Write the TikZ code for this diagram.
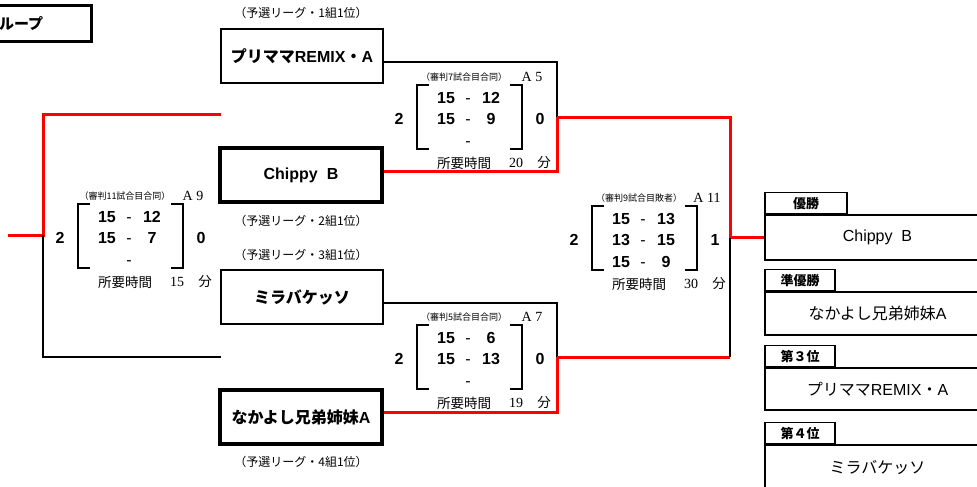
\documentclass[tikz,border=0pt]{standalone}
\usepackage{fontspec}
\setmainfont{Noto Sans CJK JP}
\newfontfamily\arialfont{Liberation Sans}
\newfontfamily\serifnum{Liberation Serif}
\usepackage{tikz}
\usetikzlibrary{positioning}

\newcommand{\scorerow}[2]{\makebox[22pt]{#1}\makebox[22pt]{\mdseries -}\makebox[24pt]{#2}}
\newcommand{\match}[7]{%
\draw[bracket] (12,0) -- (0,0) -- (0,64) -- (12,64);
\draw[bracket] (93,0) -- (105,0) -- (105,64) -- (93,64);
\node[headtext] (#1head) at (47,-8) {#3};
\node[codetext] (#1code) at (115,-8) {#2};
\node[scoretext] (#1won) at (-18,34) {#4};
\node[scoretext] (#1lost) at (123,34) {#5};
\node[scoretext, align=center] (#1rows) at (52,34) {#6};
\node[timetext] (#1time) at (47,78) {所要時間};
\node[codetext] (#1min) at (99,78) {#7};
\node[timetext] (#1unit) at (127,78) {分};
}

\begin{document}
\begin{tikzpicture}[x=1pt, y=-1pt,
  teambox/.style={draw, line width=2pt, minimum width=162pt, minimum height=54pt, inner sep=0pt, font=\bfseries\fontsize{16}{18}\selectfont},
  winline/.style={line width=4pt},
  lab/.style={font=\fontsize{12}{14}\selectfont},
  redline/.style={red, line width=3pt},
  blackline/.style={black, line width=1.5pt},
  bracket/.style={line width=2.5pt},
  headtext/.style={inner sep=0pt, font=\fontsize{9}{10}\selectfont},
  codetext/.style={inner sep=0pt, font=\serifnum\fontsize{14}{16}\selectfont},
  scoretext/.style={inner sep=0pt, font=\arialfont\bfseries\fontsize{16}{21.5}\selectfont},
  timetext/.style={inner sep=0pt, font=\fontsize{13.5}{15}\selectfont},
  resbox/.style={draw, line width=1.3pt, minimum width=225pt, minimum height=45pt, inner sep=0pt, font=\fontsize{16}{18}\selectfont},
  tabbox/.style={draw, line width=1.3pt, anchor=south west, minimum width=70pt, minimum height=21pt, inner sep=0pt, font=\bfseries\fontsize{13}{15}\selectfont},
  groupbox/.style={draw, line width=3pt, minimum width=104pt, minimum height=36pt, text width=96pt, align=left, inner xsep=4pt, font=\bfseries\fontsize{15}{17}\selectfont}]
\useasboundingbox (0,0) rectangle (977,487);
\clip (0,0) rectangle (977,487);

\node[groupbox] (grp) at (39,24) {\hspace*{8pt}ループ};

\node[teambox] (prim) at (302,56) {プリママ{\arialfont REMIX}・{\arialfont A}};
\node[lab] (lab1) at (301,13) {（予選リーグ・1組1位）};
\node[teambox, winline] (chip) at (301,175) {\arialfont Chippy\ \ B};
\node[lab] (lab2) at (301,221) {（予選リーグ・2組1位）};
\node[teambox] (mira) at (302,297) {ミラバケッソ};
\node[lab] (lab3) at (301,255) {（予選リーグ・3組1位）};
\node[teambox, winline] (naka) at (301,417) {なかよし兄弟姉妹{\arialfont A}};
\node[lab] (lab4) at (301,462) {（予選リーグ・4組1位）};

\begin{scope}[shift={(417,85)}]
\match{a5}{A 5}{（審判7試合目合同）}{2}{0}{\scorerow{15}{12}\\\scorerow{15}{9}\\\scorerow{}{}}{20}
\end{scope}
\begin{scope}[shift={(417,325)}]
\match{a7}{A 7}{（審判5試合目合同）}{2}{0}{\scorerow{15}{6}\\\scorerow{15}{13}\\\scorerow{}{}}{19}
\end{scope}
\begin{scope}[shift={(78,204)}]
\match{a9}{A 9}{（審判11試合目合同）}{2}{0}{\scorerow{15}{12}\\\scorerow{15}{7}\\\scorerow{}{}}{15}
\end{scope}
\begin{scope}[shift={(592,206)}]
\match{a11}{A 11}{（審判9試合目敗者）}{2}{1}{\scorerow{15}{13}\\\scorerow{13}{15}\\\scorerow{15}{9}}{30}
\end{scope}

\node[resbox] (win) at (877.5,237.5) {\arialfont Chippy\ \ B};
\node[tabbox, minimum width=82pt] (wintab) at (win.north west) {優勝};
\node[resbox, minimum height=43pt] (second) at (877.5,313.5) {なかよし兄弟姉妹{\arialfont A}};
\node[tabbox] (secondtab) at (second.north west) {準優勝};
\node[resbox, minimum height=42pt] (third) at (877.5,389) {プリママ{\arialfont REMIX}・{\arialfont A}};
\node[tabbox] (thirdtab) at (third.north west) {第３位};
\node[resbox] (fourth) at (877.5,467.5) {ミラバケッソ};
\node[tabbox] (fourthtab) at (fourth.north west) {第４位};

\coordinate (j5) at (557,117);
\coordinate (j7) at (557,357);
\coordinate (j11) at (730,237.5);
\coordinate (j9) at (43,235);
\coordinate (l5) at (221,114);
\coordinate (l7) at (221,357);
\coordinate (o9) at (8,235);

\draw[blackline] ([yshift=-6pt]prim.east) -| (j5);
\draw[redline] ([yshift=4pt]chip.east) -| (j5);
\draw[blackline] ([yshift=-6pt]mira.east) -| (j7);
\draw[redline] ([yshift=5pt]naka.east) -| (j7);
\draw[redline] (j5) -| (j11) -- (win.west);
\draw[redline] (j7) -- (j7 -| j11);
\draw[blackline] (j7 -| j11) -- (j11);
\draw[redline] (l5) -| (j9) -- (o9);
\draw[blackline] (l7) -| (j9);
\end{tikzpicture}
\end{document}
